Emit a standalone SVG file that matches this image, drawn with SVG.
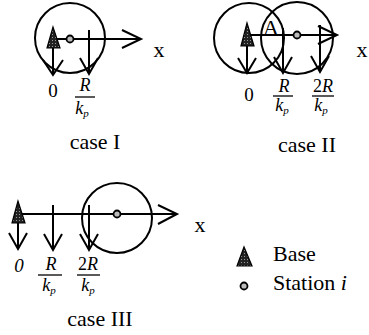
<svg xmlns="http://www.w3.org/2000/svg" width="369" height="335" viewBox="0 0 369 335">
<defs>
<pattern id="dots" width="3" height="3" patternUnits="userSpaceOnUse">
<rect width="3" height="3" fill="#222"/>
<rect x="1" y="1" width="1" height="1" fill="#999"/>
</pattern>
</defs>
<style>
.ln{fill:none;stroke:#000;stroke-width:2;stroke-linejoin:miter}
.ci{fill:none;stroke:#000;stroke-width:2}
.base{fill:url(#dots);stroke:#000;stroke-width:1.2}
.st{fill:#bbb;stroke:#000;stroke-width:1.8}
text{font-family:'Liberation Serif','DejaVu Serif','Times New Roman',serif;fill:#000}
.lab{font-size:22px}
.num{font-size:19px}
.fr{font-size:18px;font-style:italic}
.sub{font-size:11px;font-style:italic}
.fl{stroke:#000;stroke-width:1.3}
</style>

<!-- case I -->
<g id="caseI">
<circle class="ci" cx="70" cy="38" r="35"/>
<g id="caseI-connectors">
<path class="ln" d="M53 39 H141 M122 30 L141 39 L122 48"/>
<path class="ln" d="M53 48 V75 M43 60 L53 75 L63 60"/>
<path class="ln" d="M89 30 V74 M80 58 L89 74 L98 58"/>
</g>
<polygon class="base" points="53,27 47,48 60,48"/>
<circle class="st" cx="70" cy="39" r="3.5"/>
<text class="lab" x="159" y="57" text-anchor="middle">x</text>
<text class="num" x="53" y="97" text-anchor="middle">0</text>
<text class="fr" x="85" y="91" text-anchor="middle">R</text>
<line class="fl" x1="75" y1="97" x2="95" y2="97"/>
<text class="fr" x="82" y="114" text-anchor="middle">k<tspan class="sub" dy="3">p</tspan></text>
<text class="lab" x="95" y="149" text-anchor="middle">case I</text>
</g>

<!-- case II -->
<g id="caseII">
<circle class="ci" cx="249" cy="38" r="35"/>
<circle class="ci" cx="297" cy="38" r="36"/>
<g id="caseII-connectors">
<path class="ln" d="M247 35 H337 M318 26 L337 35 L318 44"/>
<path class="ln" d="M247 46 V73 M238 58 L247 73 L256 58"/>
<path class="ln" d="M283 28 V73 M274 57 L283 73 L292 57"/>
<path class="ln" d="M320 25 V72 M311 56 L320 72 L329 56"/>
</g>
<polygon class="base" points="247,23 241,46 254,46"/>
<text class="lab" x="271" y="35" text-anchor="middle" font-size="23">A</text>
<circle class="st" cx="297" cy="35" r="3.5"/>
<text class="lab" x="362" y="57" text-anchor="middle">x</text>
<text class="num" x="249" y="101" text-anchor="middle">0</text>
<text class="fr" x="284" y="92" text-anchor="middle">R</text>
<line class="fl" x1="273" y1="96" x2="293" y2="96"/>
<text class="fr" x="282" y="111" text-anchor="middle">k<tspan class="sub" dy="3">p</tspan></text>
<text class="fr" x="323" y="92" text-anchor="middle"><tspan font-style="normal">2</tspan>R</text>
<line class="fl" x1="312" y1="96" x2="334" y2="96"/>
<text class="fr" x="321" y="111" text-anchor="middle">k<tspan class="sub" dy="3">p</tspan></text>
<text class="lab" x="307" y="152" text-anchor="middle">case II</text>
</g>

<!-- case III -->
<g id="caseIII">
<circle class="ci" cx="117" cy="218" r="35"/>
<g id="caseIII-connectors">
<path class="ln" d="M18 214 H177 M158 205 L177 214 L158 224"/>
<path class="ln" d="M18 223 V249 M9 233 L18 249 L27 233"/>
<path class="ln" d="M53 205 V250 M44 234 L53 250 L62 234"/>
<path class="ln" d="M89 205 V250 M80 234 L89 250 L98 234"/>
</g>
<polygon class="base" points="18,201 12,223 25,223"/>
<circle class="st" cx="117" cy="214" r="3.5"/>
<text class="lab" x="200" y="232" text-anchor="middle">x</text>
<text class="num" x="19" y="272" text-anchor="middle" font-style="italic">0</text>
<text class="fr" x="51" y="270" text-anchor="middle">R</text>
<line class="fl" x1="38" y1="275" x2="62" y2="275"/>
<text class="fr" x="49" y="291" text-anchor="middle">k<tspan class="sub" dy="3">p</tspan></text>
<text class="fr" x="88" y="270" text-anchor="middle"><tspan font-style="normal">2</tspan>R</text>
<line class="fl" x1="77" y1="275" x2="100" y2="275"/>
<text class="fr" x="88" y="291" text-anchor="middle">k<tspan class="sub" dy="3">p</tspan></text>
<text class="lab" x="100" y="326" text-anchor="middle">case III</text>
</g>

<!-- legend -->
<g id="legend-base">
<polygon class="base" points="244,247 237,266 252,266"/>
<text class="lab" x="273" y="261">Base</text>
</g>
<g id="legend-station">
<circle class="st" cx="244" cy="286" r="3.5"/>
<text class="lab" x="273" y="290">Station <tspan font-style="italic">i</tspan></text>
</g>
</svg>
